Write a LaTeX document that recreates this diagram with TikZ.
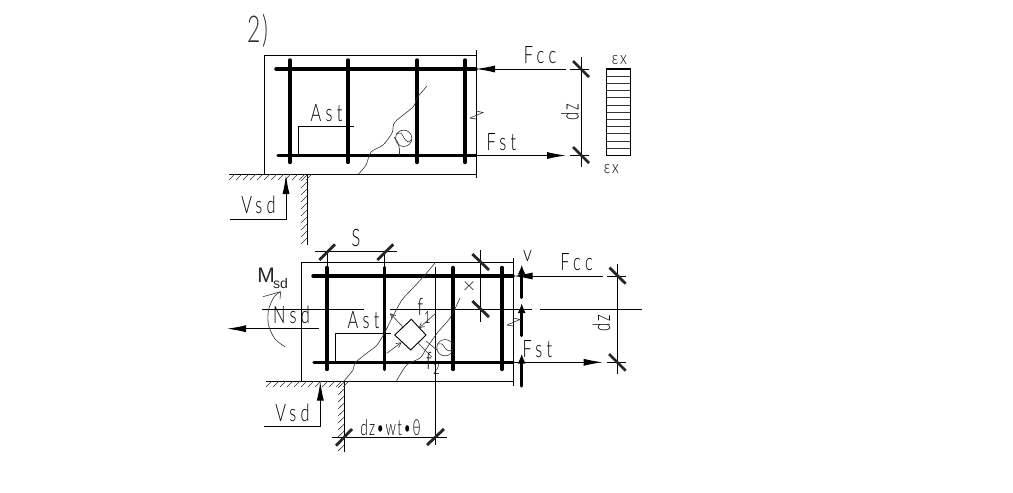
\documentclass[tikz,border=0pt]{standalone}
\usepackage{fontspec}
\setmainfont{Liberation Sans}
\newfontfamily\cad[LetterSpace=18,FakeStretch=0.68,UprightFont={* Light}]{Lato}
\newfontfamily\cadtwo[LetterSpace=10,FakeStretch=0.8,UprightFont={* Light}]{Lato}
\newfontfamily\cadthree[LetterSpace=6,FakeStretch=0.62,UprightFont={* Light}]{Lato}
\newfontfamily\cadwide[FakeStretch=1.4,UprightFont={* Light}]{Lato}
\newfontfamily\cadtight{Liberation Sans}
\usetikzlibrary{arrows.meta}
\tikzset{
  lbl/.style={inner sep=0pt,outer sep=0pt,font=\cad\fontsize{24}{24}\selectfont,text=black},
  lblsmall/.style={inner sep=0pt,outer sep=0pt,font=\cadtwo\fontsize{18}{18}\selectfont,text=black},
  subs/.style={inner sep=0pt,outer sep=0pt,font=\cad\fontsize{17}{17}\selectfont,text=black},
  thin line/.style={line width=0.9pt,black},
  fine/.style={line width=0.6pt,black!80},
  rebar/.style={line width=3.4pt,line cap=round,black},
  tick/.style={line width=2.8pt,black!85},
  force/.style={line width=0.9pt,-{Latex[length=19pt,width=7pt]}},
  upforce/.style={line width=3.4pt,line cap=round,black,-{Latex[length=10pt,width=8pt]}},
  smallarr/.style={line width=0.6pt,black!80,-{Straight Barb[length=5pt,width=5pt]}},
}
\begin{document}
\begin{tikzpicture}[x=1pt,y=-1pt]
\useasboundingbox[fill=white] (0,0) rectangle (1013,493);

% ---------- upper beam
\node[lbl,font=\cadthree\fontsize{37}{37}\selectfont,text=black!80] (two) at (258,31) {2)};
\draw[thin line] (476,55.3) -- (264.3,55.3) -- (264.3,174);
\draw[thin line] (229,174) -- (476,174);
\draw[thin line] (476,50) -- (476,178);
\draw[thin line] (307,174) -- (307,245);
\foreach \x in {229,236,...,306} \draw[fine] (\x,180) -- (\x+6,174);
\foreach \y in {181,188,...,244} \draw[fine] (301,\y) -- (307,\y-6);
% bars
\foreach \x in {290,348,417,465} \draw[rebar] (\x,60) -- (\x,162.5);
\draw[rebar] (276,69) -- (476,69);
\draw[rebar] (278,155.5) -- (476,155.5);
% break line
\draw[fine] plot[smooth] coordinates {(358.5,174) (366,165) (371,152) (383,145) (392,133) (395,122) (413,107) (417,98) (427,86)};
\draw[fine] (403.7,138.3) circle (8.2);
\draw[fine] plot[smooth] coordinates {(396,134) (401,133) (404,138) (408,142) (412,139)};
\draw[fine] (394,137) .. controls (399,142) and (400,148) .. (399.5,155);
% Ast
\draw[thin line] (298.5,155) -- (298.5,126.5) -- (353.5,126.5);
\node[lbl] (ast1) at (326.5,113.5) {Ast};
% Vsd
\draw[thin line] (230,219) -- (286,219) -- (286,193);
\draw[line width=0.9pt,-{Latex[length=19pt,width=7pt]}] (286,194) -- (286,175);
\node[lbl] (vsd1) at (258.5,205) {Vsd};
% forces
\draw[force] (566,69) -- (476,69);
\draw[force] (477,155.5) -- (566,155.5);
\node[lbl] (fcc1) at (540,55) {Fcc};
\node[lbl] (fst1) at (501.5,142) {Fst};
\draw[fine] (470,118) -- (483,112.5) -- (476,111);
\draw[fine] (476,119) -- (470,118);
% dz
\draw[thin line] (581.7,57) -- (581.7,167);
\draw[thin line] (570,69) -- (589,69);
\draw[thin line] (570,155.5) -- (589,155.5);
\draw[tick] (573,61) -- (589,77);
\draw[tick] (573,147) -- (589,163);
\node[lbl,font=\cadthree\fontsize{24}{24}\selectfont,rotate=90] (dz1) at (570,112) {dz};
% stress block
\draw[thin line] (606.7,68.7) rectangle (630,155.3);
\draw[line width=2pt] (606.7,68.7) -- (630,68.7);
\foreach \y in {76,83.2,...,150} \draw[fine] (606.7,\y) -- (630,\y);
\node[lblsmall] (ex1) at (619.5,60) {εx};
\node[lblsmall] (ex2) at (611.5,169.5) {εx};

% ---------- lower beam
\draw[thin line] (513.3,262.3) -- (301.7,262.3) -- (301.7,381);
\draw[thin line] (266,381) -- (513.3,381);
\draw[thin line] (513.3,258) -- (513.3,385.7);
\draw[thin line] (344.3,381) -- (344.3,452);
\foreach \x in {266,273,...,343} \draw[fine] (\x,387) -- (\x+6,381);
\foreach \y in {388,395,...,451} \draw[fine] (338,\y) -- (344.3,\y-6);
% bars
\foreach \x in {327,384.7,453,502} \draw[rebar] (\x,267.5) -- (\x,369.5);
\draw[rebar] (313,276) -- (513,276);
\draw[rebar] (314,362.3) -- (513,362.3);
% S dimension
\draw[thin line] (315,251) -- (396.7,251);
\draw[thin line] (327,251) -- (327,267);
\draw[thin line] (384.7,251) -- (384.7,267);
\draw[tick] (319.3,260) -- (335,244.3);
\draw[tick] (377.3,260) -- (393.3,244.3);
\node[lbl] (s) at (356,238.5) {S};
% centre line
\draw[thin line] (262,309.3) -- (364,309.3);
\draw[thin line] (390,309.3) -- (531.7,309.3);
\draw[thin line] (540,309.3) -- (641.7,309.3);
\draw[thin line] (435.5,267) -- (435.5,445);
% Nsd
\draw[force] (319,328.7) -- (227,328.7);
\node[lbl] (nsd) at (291.5,314.5) {Nsd};
% Msd
\node[inner sep=0pt,font=\cadtight\fontsize{21}{21}\selectfont,text=black!85] (m) at (266,275) {M};
\node[inner sep=0pt,font=\cadtight\fontsize{14}{14}\selectfont,text=black!85] (sd) at (280.5,283) {sd};
\draw[fine] plot[smooth] coordinates {(285,346.7) (275,339) (268.5,325) (268.5,310) (274,297) (280,292)};
\draw[fine] (263,296.7) -- (280.7,291.7) -- (280,299);
% Ast lower
\draw[thin line] (335.3,361) -- (335.3,333.5) -- (391,333.5);
\node[lbl] (ast2) at (363.5,320.5) {Ast};
% break lines
\draw[fine] plot[smooth] coordinates {(344,381) (353,370) (355,363) (367,353) (377,345) (385,332) (392,318) (402,300) (413,288) (424,276) (435,263)};
\draw[fine] plot[smooth] coordinates {(396.5,381) (406.7,365) (420,358) (426.7,348) (438,332) (450,318) (460,298)};
% diamond
\draw[thin line] (411.3,319.3) -- (426,335) -- (410.7,350) -- (394.7,335) -- cycle;
\draw[smallarr] (402.7,326.7) -- (390,313.3);
\draw[smallarr] (386.7,353.3) -- (401.7,342.3);
\draw[smallarr] (436,313) -- (418.7,328.3);
\draw[fine] (418.3,343.3) -- (431.7,356.7);
\draw[fine] (426,341) -- (437,350);
\node[lbl] (f1) at (420.5,307) {f};
\node[subs] (f1s) at (427.5,317.5) {1};
\node[lbl] (f2) at (429,360.5) {f};
\node[subs] (f2s) at (436.5,368.5) {2};
% circle
\draw[fine] (445,347.7) circle (8.2);
\draw[fine] plot[smooth] coordinates {(437.5,344) (442,344) (445,348) (449,351) (453,349)};
% X dimension
\draw[thin line] (480.7,250) -- (480.7,321.7);
\draw[tick] (472.3,254) -- (489,270);
\draw[tick] (472.3,301) -- (489,317);
\node[lblsmall,font=\cadwide\fontsize{12}{12}\selectfont] (x) at (469,286) {X};
% Vsd lower
\draw[thin line] (264,426.3) -- (320.3,426.3) -- (320.3,400);
\draw[line width=0.9pt,-{Latex[length=19pt,width=7pt]}] (320.3,401) -- (320.3,381.5);
\node[lbl] (vsd2) at (292.5,412.5) {Vsd};
% dz w t theta
\draw[thin line] (331.7,437) -- (447,437);
\draw[tick] (336,445.7) -- (352,429);
\draw[tick] (427,445) -- (444,429);
\node[lbl,font=\cadthree\fontsize{22}{22}\selectfont] (dzw) at (390.5,427.5) {dz•wt•θ};
% forces
\draw[upforce] (521.7,297.5) -- (521.7,264.5);
\draw[upforce] (521.7,335.5) -- (521.7,303);
\draw[upforce] (521.7,386) -- (521.7,353.5);
\node[lblsmall,font=\cadtwo\fontsize{22}{22}\selectfont] (v) at (527.5,256) {v};
\draw[force] (602.7,276) -- (513.5,276);
\draw[force] (514,362.3) -- (602.7,362.3);
\node[lbl] (fcc2) at (576.5,262) {Fcc};
\node[lbl] (fst2) at (537.5,349.5) {Fst};
\draw[fine] (507,325) -- (520,319.5) -- (513.3,318);
\draw[fine] (513.3,326) -- (507,325);
% dz right
\draw[thin line] (617.7,264) -- (617.7,374.3);
\draw[thin line] (607,276) -- (626,276);
\draw[thin line] (607,362.3) -- (626,362.3);
\draw[tick] (609.5,267.7) -- (625.7,283.7);
\draw[tick] (609,354) -- (625.7,370.7);
\node[lbl,font=\cadthree\fontsize{24}{24}\selectfont,rotate=90] (dz2) at (601.5,323) {dz};
\end{tikzpicture}
\end{document}
